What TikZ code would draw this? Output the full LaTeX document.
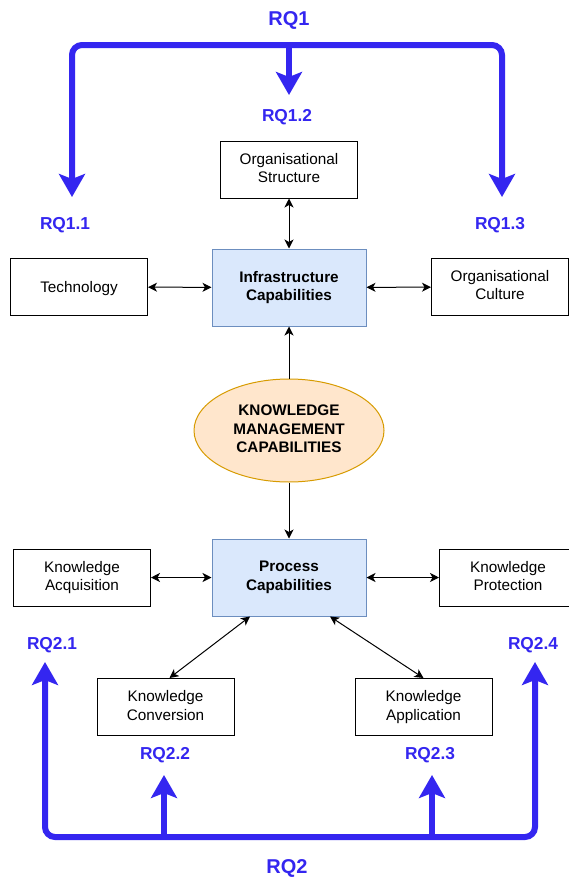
\documentclass[tikz,border=0pt]{standalone}
\usepackage{fontspec}
\setmainfont{Liberation Sans}
\usetikzlibrary{arrows.meta,shapes.geometric,calc}

\definecolor{rqblue}{RGB}{52,38,240}
\definecolor{boxfill}{HTML}{DAE8FC}
\definecolor{boxline}{HTML}{6C8EBF}
\definecolor{kmfill}{HTML}{FFE6CC}
\definecolor{kmline}{HTML}{D79B00}

\tikzset{
  smalltip/.tip={Stealth[length=9, width=9, inset=2.5]},
  rqtip/.tip={Stealth[length=23, width=26, inset=5]},
  % invisible rules keep the lines of every box optically centred
  txt/.style={font=\fontsize{15.3}{18.4}\selectfont, align=center,
    execute at begin node={\rule{0pt}{14.5pt}},
    execute at end node={\rule[-3.5pt]{0pt}{3.5pt}}},
  plainbox/.style={txt, draw=black, line width=1pt, fill=white,
    minimum width=137, minimum height=57, inner sep=0pt},
  capbox/.style={txt, font=\fontsize{15.3}{18.4}\selectfont\bfseries,
    draw=boxline, line width=1pt, fill=boxfill,
    minimum width=154, minimum height=77, inner sep=0pt},
  kmnode/.style={ellipse, txt, font=\fontsize{15.3}{18.4}\selectfont\bfseries,
    draw=kmline, line width=1pt, fill=kmfill,
    minimum width=190, minimum height=103, inner sep=0pt},
  rqmain/.style={text=rqblue, font=\fontsize{20}{24}\selectfont\bfseries},
  rqsub/.style={text=rqblue, font=\fontsize{17.3}{20}\selectfont\bfseries},
  link/.style={line width=1pt, smalltip-smalltip},
  onelink/.style={line width=1pt, -smalltip},
  rqline/.style={draw=rqblue, line width=6pt, rounded corners=10pt},
}

\begin{document}
\begin{tikzpicture}[x=1pt, y=-1pt]
  \useasboundingbox (0,0) rectangle (569,878);

  % capability nodes
  \node[plainbox] (struct)  at (289,169.5) {Organisational\\Structure};
  \node[plainbox] (tech)    at (79,287)    {Technology};
  \node[capbox]   (infra)   at (289,287.5) {Infrastructure\\Capabilities};
  \node[plainbox] (culture) at (500,287)   {Organisational\\Culture};
  \node[kmnode]   (km)      at (289,430.5) {KNOWLEDGE\\MANAGEMENT\\CAPABILITIES};
  \node[capbox]   (proc)    at (289,577.5) {Process\\Capabilities};
  \node[plainbox] (acq)     at (82,577.5)  {Knowledge\\Acquisition};
  \node[plainbox] (prot)    at (508,577.5) {Knowledge\\Protection};
  \node[plainbox] (conv)    at (165.5,707) {Knowledge\\Conversion};
  \node[plainbox] (app)     at (423.5,707) {Knowledge\\Application};

  % research question labels
  \node[rqmain] (rq1)  at (289,20)  {RQ1};
  \node[rqsub]  (rq11) at (65,225)  {RQ1.1};
  \node[rqsub]  (rq12) at (287,117) {RQ1.2};
  \node[rqsub]  (rq13) at (500,225) {RQ1.3};
  \node[rqsub]  (rq21) at (52,645)  {RQ2.1};
  \node[rqsub]  (rq22) at (165,755) {RQ2.2};
  \node[rqsub]  (rq23) at (430,755) {RQ2.3};
  \node[rqsub]  (rq24) at (533,645) {RQ2.4};
  \node[rqmain] (rq2)  at (287,868) {RQ2};

  % black connectors
  \draw[link] (tech) -- (infra);
  \draw[link] (infra) -- (culture);
  \draw[link] (infra.north) -- (struct.south);
  \draw[onelink] (km) -- (infra);
  \draw[onelink] (km) -- (proc);
  \draw[link] (acq) -- (proc);
  \draw[link] (proc) -- (prot);
  \draw[link] ([xshift=-39pt]proc.south) -- ([xshift=4pt]conv.north);
  \draw[link] ([xshift=41pt]proc.south) -- (app.north);

  % RQ1 bracket
  \coordinate (t11) at (72,197);
  \coordinate (t12) at (289,95);
  \coordinate (t13) at (502,197);
  \coordinate (top) at (289,45);
  \draw[rqline, rqtip-rqtip] (t11) |- (top) -| (t13);
  \draw[rqline, -rqtip] (top) -- (t12);

  % RQ2 bracket
  \coordinate (b21) at (45,662);
  \coordinate (b22) at (164,775);
  \coordinate (b23) at (432,775);
  \coordinate (b24) at (535,662);
  \coordinate (bot) at (164,837);
  \coordinate (bot3) at (432,837);
  \draw[rqline, rqtip-rqtip] (b21) |- (bot) -| (b24);
  \draw[rqline, -rqtip] (bot) -- (b22);
  \draw[rqline, -rqtip] (bot3) -- (b23);
\end{tikzpicture}
\end{document}
